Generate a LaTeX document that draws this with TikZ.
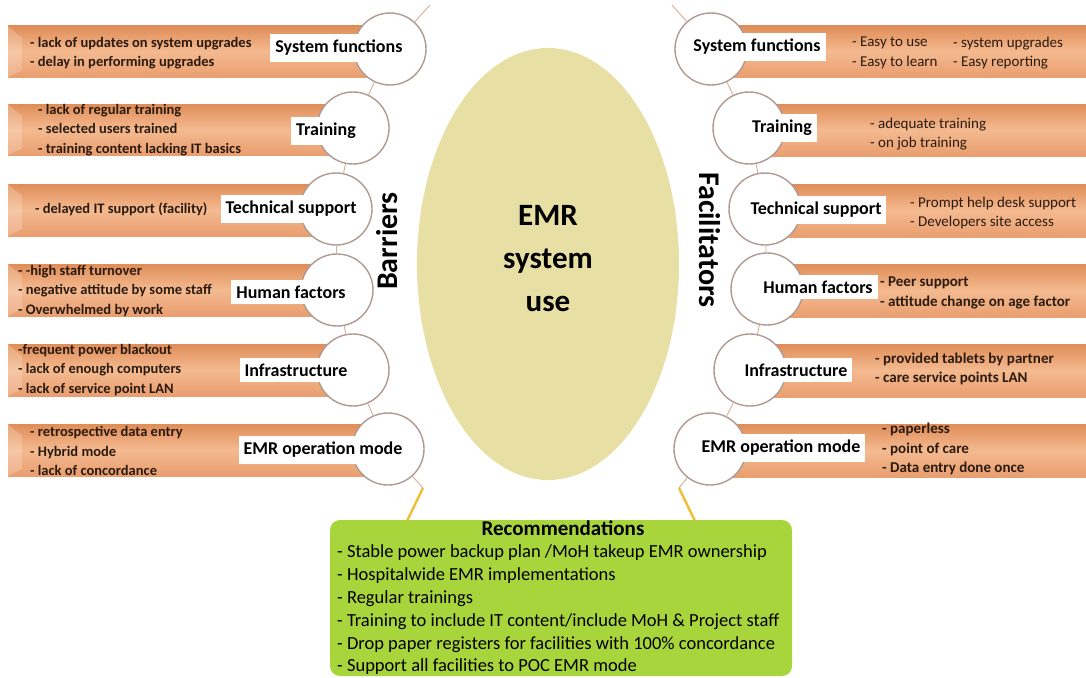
\documentclass[tikz,border=0pt]{standalone}
\usepackage{fontspec}
\setmainfont{Carlito}
\usetikzlibrary{shapes.geometric}
\definecolor{barTop}{HTML}{E08D58}
\definecolor{barMid}{HTML}{F4BA90}
\definecolor{barBot}{HTML}{E99E6F}
\definecolor{circEdge}{HTML}{AE9A92}
\definecolor{linkEdge}{HTML}{D4AE9C}
\definecolor{linkIn}{HTML}{F6E4D8}
\definecolor{footLink}{HTML}{F0BE35}
\definecolor{emrFill}{HTML}{E8DFA4}
\definecolor{recFill}{HTML}{A8D53C}
\definecolor{noteInk}{HTML}{2A1A0E}
\begin{document}
\begin{tikzpicture}[x=1pt,y=-1pt,
    bar/.style={top color=barTop, bottom color=barBot, middle color=barMid},
    bevel/.style={fill=white, fill opacity=0.2},
    topic/.style={circle, draw=circEdge, line width=1.4pt, fill=white,
      minimum size=72pt, inner sep=0pt},
    factorname/.style={fill=white, inner xsep=5pt, inner ysep=6pt,
      font=\fontsize{18}{20}\selectfont\bfseries},
    barnotes/.style={anchor=west, align=left, text=noteInk, inner sep=0pt,
      font=\fontsize{14.5}{19.5}\selectfont\bfseries},
    facnotes/.style={anchor=west, align=left, text=noteInk, inner sep=0pt,
      font=\fontsize{15}{19.5}\selectfont},
    link/.style={draw=linkEdge, line width=0.9pt, double=linkIn, double distance=1.8pt},
    foot/.style={draw=footLink, line width=2.4pt}]
  \useasboundingbox (0,0) rectangle (1086,677);

  % orange bars, barriers side
  \shade[bar] (8,26) rectangle (390,77);
  \shade[bar] (8,104) rectangle (353,155);
  \shade[bar] (8,184) rectangle (336,236);
  \shade[bar] (8,264) rectangle (337,316);
  \shade[bar] (8,344) rectangle (353,396);
  \shade[bar] (8,424) rectangle (388,476);
  \fill[bevel] (8,26) -- (22,38) -- (22,70) -- (8,77) -- cycle;
  \fill[bevel] (8,104) -- (22,116) -- (22,148) -- (8,155) -- cycle;
  \fill[bevel] (8,184) -- (22,196) -- (22,229) -- (8,236) -- cycle;
  \fill[bevel] (8,264) -- (22,276) -- (22,309) -- (8,316) -- cycle;
  \fill[bevel] (8,344) -- (22,356) -- (22,389) -- (8,396) -- cycle;
  \fill[bevel] (8,424) -- (22,436) -- (22,469) -- (8,476) -- cycle;

  % orange bars, facilitators side
  \shade[bar] (711,26) rectangle (1086,77);
  \shade[bar] (749,104) rectangle (1086,156);
  \shade[bar] (765,184) rectangle (1086,237);
  \shade[bar] (767,264) rectangle (1086,317);
  \shade[bar] (750,344) rectangle (1086,397);
  \shade[bar] (710,424) rectangle (1086,477);

  % chain ends
  \coordinate (ltop) at (430,5);
  \coordinate (lbend) at (423,488);
  \coordinate (lfoot) at (407,521);
  \coordinate (rtop) at (672,5);
  \coordinate (rbend) at (679,488);
  \coordinate (rfoot) at (695,521);

  % circles
  \node[topic] (b1) at (390,49) {};
  \node[topic] (b2) at (353,128) {};
  \node[topic] (b3) at (336,209) {};
  \node[topic] (b4) at (337,290) {};
  \node[topic] (b5) at (353,370) {};
  \node[topic] (b6) at (388,449) {};
  \node[topic] (f1) at (711,49) {};
  \node[topic] (f2) at (749,128) {};
  \node[topic] (f3) at (765,209) {};
  \node[topic] (f4) at (767,289) {};
  \node[topic] (f5) at (750,370) {};
  \node[topic] (f6) at (710,449) {};

  \begin{scope}[link]
    \draw (ltop) -- (b1);
    \draw (b1) -- (b2);
    \draw (b2) -- (b3);
    \draw (b3) -- (b4);
    \draw (b4) -- (b5);
    \draw (b5) -- (b6);
    \draw (b6) -- (lbend);
    \draw (rtop) -- (f1);
    \draw (f1) -- (f2);
    \draw (f2) -- (f3);
    \draw (f3) -- (f4);
    \draw (f4) -- (f5);
    \draw (f5) -- (f6);
    \draw (f6) -- (rbend);
  \end{scope}
  \draw[foot] (lbend) -- (lfoot);
  \draw[foot] (rbend) -- (rfoot);

  % factor names
  \node[factorname] (bn1) at (339,48) {System functions};
  \node[factorname] (bn2) at (326,131) {Training};
  \node[factorname] (bn3) at (291,209) {Technical support};
  \node[factorname] (bn4) at (291,292) {Human factors};
  \node[factorname] (bn5) at (296,370) {Infrastructure};
  \node[factorname] (bn6) at (323,450) {EMR operation mode};
  \node[factorname] (fn1) at (757,47) {System functions};
  \node[factorname] (fn2) at (782,128) {Training};
  \node[factorname] (fn3) at (816,210) {Technical support};
  \node[factorname] (fn4) at (818,287) {Human factors};
  \node[factorname] (fn5) at (796,370) {Infrastructure};
  \node[factorname] (fn6) at (781,448) {EMR operation mode};

  % barrier notes
  \node[barnotes] (bt1) at (30,53) {- lack of updates on system upgrades\\- delay in performing upgrades};
  \node[barnotes] (bt2) at (38,130) {- lack of regular training\\- selected users trained\\- training content lacking IT basics};
  \node[barnotes] (bt3) at (35,209) {- delayed IT support (facility)};
  \node[barnotes] (bt4) at (18,291) {- -high staff turnover\\- negative attitude by some staff\\- Overwhelmed by work};
  \node[barnotes] (bt5) at (18,370) {-frequent power blackout\\- lack of enough computers\\- lack of service point LAN};
  \node[barnotes] (bt6) at (30,451) {- retrospective data entry\\- Hybrid mode\\- lack of concordance};

  % facilitator notes
  \node[facnotes] (ft1a) at (852,53) {- Easy to use\\- Easy to learn};
  \node[facnotes] (ft1b) at (953,53) {- system upgrades\\- Easy reporting};
  \node[facnotes] (ft2) at (870,134) {- adequate training\\- on job training};
  \node[facnotes] (ft3) at (910,213) {- Prompt help desk support\\- Developers site access};
  \node[facnotes, font=\fontsize{15}{19.5}\selectfont\bfseries] (ft4) at (880,293) {- Peer support\\- attitude change on age factor};
  \node[facnotes, font=\fontsize{15}{19.5}\selectfont\bfseries] (ft5) at (875,369) {- provided tablets by partner\\- care service points LAN};
  \node[facnotes, font=\fontsize{15}{19.5}\selectfont\bfseries] (ft6) at (882,449) {- paperless\\- point of care\\- Data entry done once};

  % centre
  \node[ellipse, fill=emrFill, minimum width=262pt, minimum height=432pt] (emr) at (548,264) {};
  \node[align=center, font=\fontsize{31}{43}\selectfont\bfseries] (emrtext) at (548,259) {EMR\\system\\use};
  \node[rotate=90, font=\fontsize{30}{32}\selectfont\bfseries] (barriers) at (387,241) {Barriers};
  \node[rotate=-90, font=\fontsize{30}{32}\selectfont\bfseries] (facilitators) at (710,240) {Facilitators};

  % recommendations
  \node[fill=recFill, rounded corners=10pt, minimum width=462pt, minimum height=156pt] (rec) at (561,598) {};
  \node[font=\fontsize{21}{24}\selectfont\bfseries] (rectitle) at (563,528) {Recommendations};
  \node[anchor=west, align=left, inner sep=0pt, font=\fontsize{18.5}{22.8}\selectfont] (reclist) at (337,610)
    {- Stable power backup plan /MoH takeup EMR ownership\\
     - Hospitalwide EMR implementations\\
     - Regular trainings\\
     - Training to include IT content/include MoH \& Project staff\\
     - Drop paper registers for facilities with 100\% concordance\\
     - Support all facilities to POC EMR mode};
\end{tikzpicture}
\end{document}
